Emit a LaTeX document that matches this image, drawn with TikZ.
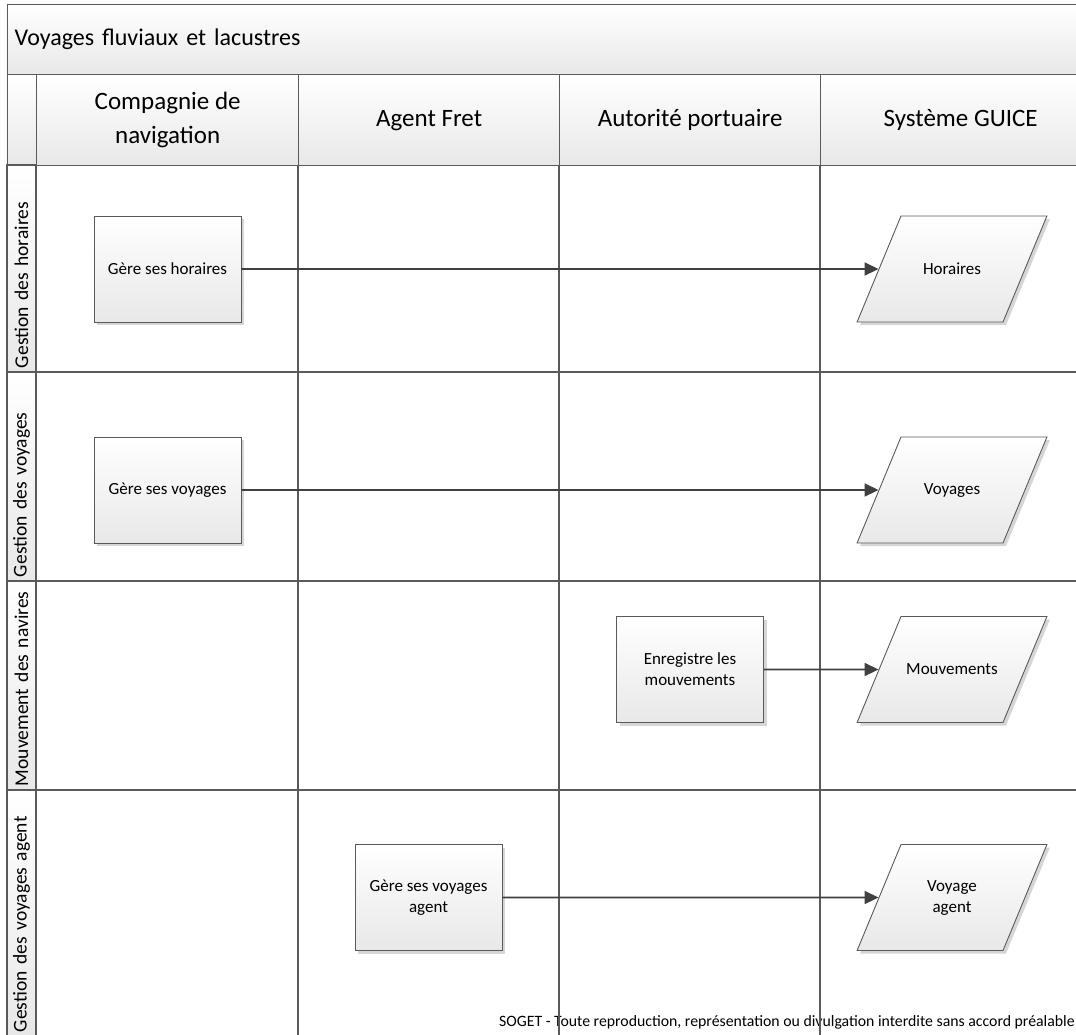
\documentclass[tikz,border=0pt]{standalone}
\usepackage{fontspec}
\setmainfont{Carlito}
\usetikzlibrary{arrows.meta,shapes.geometric,shadows}
\definecolor{linegray}{HTML}{5A5A5A}
\definecolor{arrowgray}{HTML}{404040}
\definecolor{fillgray}{HTML}{E8E8E8}
\definecolor{shadowgray}{HTML}{D6D6D6}
% fixed body for the data shapes
\newcommand{\storebody}[1]{\parbox[c][106pt][c]{102pt}{\centering #1}}

\begin{document}
\begin{tikzpicture}[
  x=1pt, y=-1pt,
  cell/.style={draw=linegray, line width=1.3pt, top color=white, bottom color=fillgray,
               inner sep=0pt},
  header/.style={cell, align=center, font=\fontsize{25}{34}\selectfont},
  lanelabel/.style={cell, rotate=90, minimum height=29pt, align=left, inner xsep=4pt,
                    font=\fontsize{19.5}{21}\selectfont},
  task/.style={draw=linegray, line width=0.9pt, top color=white, bottom color=fillgray,
               align=center, minimum width=147pt, minimum height=106pt,
               font=\fontsize{17}{21}\selectfont,
               drop shadow={shadow xshift=3pt, shadow yshift=-3pt, fill=shadowgray, opacity=1}},
  store/.style={task, trapezium, trapezium left angle=67.5, trapezium right angle=112.5,
                minimum width=0pt, minimum height=0pt, inner sep=0pt},
  grid/.style={draw=linegray, line width=1.3pt},
  arrow/.style={-{Triangle[length=14pt, width=13pt]}, line width=1.6pt, draw=arrowgray}
]
  \clip (0,0) rectangle (1076,1034);

  % title band and column headers
  \node[cell, anchor=north west, minimum width=1090pt, minimum height=70pt,
        text width=1076pt, align=left, inner xsep=7pt,
        font=\fontsize{24}{28}\selectfont] (title) at (7,4) {Voyages fluviaux et lacustres};
  \node[cell, anchor=north west, minimum width=29pt, minimum height=91pt] (corner) at (7,74) {};
  \node[header, anchor=north west, minimum width=262pt, minimum height=91pt] (hcomp) at (36,74) {Compagnie de\\navigation};
  \node[header, anchor=north west, minimum width=261pt, minimum height=91pt] (hagent) at (298,74) {Agent Fret};
  \node[header, anchor=north west, minimum width=261pt, minimum height=91pt] (hport) at (559,74) {Autorité portuaire};
  \node[header, anchor=north west, minimum width=280pt, minimum height=91pt] (hguice) at (820,74) {Système GUICE};

  % lane labels
  \node[lanelabel, minimum width=207pt, text width=199pt] (lhoraires) at (21.5,268.5) {Gestion des horaires};
  \node[lanelabel, minimum width=209pt, text width=201pt] (lvoyages) at (21.5,476.5) {Gestion des voyages};
  \node[lanelabel, minimum width=209pt, text width=201pt] (lnavires) at (21.5,685.5) {Mouvement des navires};
  \node[lanelabel, minimum width=246pt, text width=238pt] (lagent) at (21.5,913) {Gestion des voyages agent};

  % footer
  \node[anchor=base east, inner sep=0pt, font=\fontsize{15.8}{17}\selectfont] (footer) at (1075,1026)
    {SOGET - Toute reproduction, représentation ou divulgation interdite sans accord préalable};

  % lane grid
  \foreach \y in {372,581,790} \draw[grid] (36,\y) -- (1090,\y);
  \foreach \x in {298,559,820} \draw[grid] (\x,165) -- (\x,1040);
  \draw[grid] (36,165) -- (36,1040);

  % activities
  \node[task] (gHoraires) at (167.5,269) {Gère ses horaires};
  \node[store] (dHoraires) at (952,269) {\storebody{Horaires}};
  \node[task] (gVoyages) at (167.5,490) {Gère ses voyages};
  \node[store] (dVoyages) at (952,490) {\storebody{Voyages}};
  \node[task] (gMouv) at (690,669.5) {Enregistre les\\mouvements};
  \node[store] (dMouv) at (952,669.5) {\storebody{Mouvements}};
  \node[task] (gAgent) at (428.5,897.5) {Gère ses voyages\\agent};
  \node[store] (dAgent) at (952,897.5) {\storebody{Voyage\\agent}};

  \draw[arrow] (gHoraires) -- (dHoraires);
  \draw[arrow] (gVoyages) -- (dVoyages);
  \draw[arrow] (gMouv) -- (dMouv);
  \draw[arrow] (gAgent) -- (dAgent);
\end{tikzpicture}
\end{document}
